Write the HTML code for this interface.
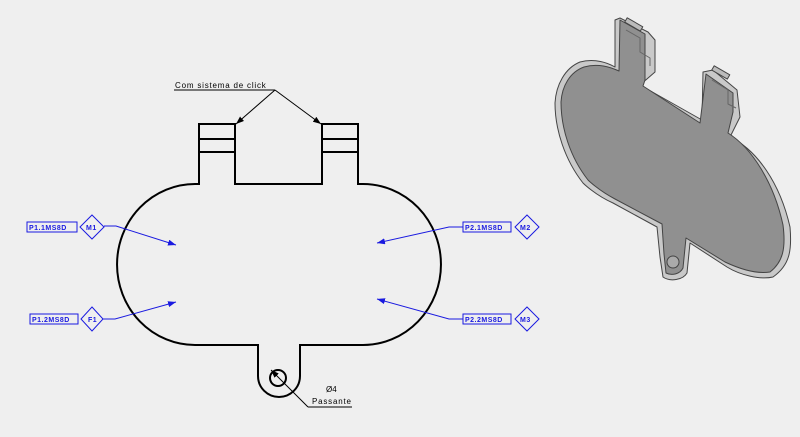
<!DOCTYPE html>
<html><head><style>
html,body{margin:0;padding:0;background:#efefef;}
svg{display:block;}
text{font-family:"Liberation Sans",sans-serif;}
</style></head><body>
<svg width="800" height="437" viewBox="0 0 800 437" xmlns="http://www.w3.org/2000/svg">
<rect width="800" height="437" fill="#efefef"/>
<defs>
<marker id="ab" markerWidth="8" markerHeight="6" refX="8" refY="3" orient="auto" markerUnits="userSpaceOnUse"><path d="M0,0 L8,3 L0,6 z" fill="#1a1ae0"/></marker>
<marker id="ak" markerWidth="8" markerHeight="6" refX="8" refY="3" orient="auto" markerUnits="userSpaceOnUse"><path d="M0,0 L8,3 L0,6 z" fill="#000"/></marker>
</defs>
<g fill="none" stroke="#000" stroke-width="2">
<path d="M199,184 L195,184 A78,80.5 0 0 0 195,345 L258,345 L258,376 A21,21 0 0 0 300,376 L300,345 L363,345 A78,80.5 0 0 0 363,184 L358,184 L358,124 L322,124 L322,184 L235,184 L235,124 L199,124 Z"/>
<line x1="199" y1="139" x2="235" y2="139"/><line x1="199" y1="152" x2="235" y2="152"/>
<line x1="322" y1="139" x2="358" y2="139"/><line x1="322" y1="152" x2="358" y2="152"/>
<circle cx="278" cy="378" r="8"/>
</g>
<text x="175" y="88" font-size="8" letter-spacing="0.8">Com sistema de click</text>
<g stroke="#000" stroke-width="1" fill="none">
<line x1="174" y1="90" x2="275" y2="90"/>
<line x1="275" y1="90" x2="236" y2="124" marker-end="url(#ak)"/>
<line x1="275" y1="90" x2="321" y2="124" marker-end="url(#ak)"/>
<line x1="308" y1="407" x2="352" y2="407"/>
<line x1="308" y1="407" x2="271" y2="370" marker-end="url(#ak)"/>
</g>
<text x="326" y="392" font-size="8">Ø4</text>
<text x="312" y="404" font-size="8" letter-spacing="0.8">Passante</text>
<g stroke="#1a1ae0" stroke-width="1" fill="none">
<rect x="27" y="222" width="50" height="10"/>
<path d="M92,215 L104,227 L92,239 L80,227 Z"/>
<polyline points="104,226 116,226 176,245" marker-end="url(#ab)"/>
<rect x="30" y="314" width="48" height="10"/>
<path d="M92,307 L103,319 L92,331 L81,319 Z"/>
<polyline points="103,319 115,319 176,302" marker-end="url(#ab)"/>
<rect x="463" y="222" width="48" height="10"/>
<path d="M527,215 L539,227 L527,239 L515,227 Z"/>
<polyline points="463,227 449,227 377,243" marker-end="url(#ab)"/>
<rect x="463" y="314" width="48" height="10"/>
<path d="M527,307 L539,319 L527,331 L515,319 Z"/>
<polyline points="463,319 449,319 377,299" marker-end="url(#ab)"/>
</g>
<g fill="#1a1ae0" font-size="7" font-weight="bold" letter-spacing="0.5">
<text x="29" y="230">P1.1MS8D</text><text x="86" y="230">M1</text>
<text x="32" y="322">P1.2MS8D</text><text x="88" y="322">F1</text>
<text x="465" y="230">P2.1MS8D</text><text x="520" y="230">M2</text>
<text x="465" y="322">P2.2MS8D</text><text x="520" y="322">M3</text>
</g>
<!-- 3D view -->
<g stroke="#444" stroke-width="1" stroke-linejoin="round">
<path d="M615,20 L620,18 L648,32 L655,40 L655,72 L640,85 L702,120 L703,72 L713,70 L737,90 L740,117 L730,137 C757,150 780,183 790,227 C792,250 790,265 773,277 C760,280 740,275 727,267 L690,243 L687,273 C683,280 670,282 663,277 L660,257 L657,227 L613,203 C595,195 583,183 583,183 C565,160 555,130 555,103 C556,85 565,68 580,62 C595,58 608,63 615,67 Z" fill="#c9c9c9"/>
<path d="M620,20 L645,34 L645,80 L643,86 L700,123 L706,74 L733,93 L733,112 L728,133 C752,148 774,183 783,225 C786,248 783,262 770,272 C757,274 742,270 725,262 L686,238 L683,268 C680,274 672,276 666,273 L664,254 L662,224 L615,199 C598,190 588,180 588,180 C570,157 561,128 561,102 C562,86 570,72 584,67 C598,63 610,67 619,71 Z" fill="#909090"/>
<path d="M626,30 L640,38 L640,52 L650,58 L650,66 M712,80 L728,90 L728,104 L736,108" fill="none" stroke="#666"/>
<rect x="625" y="22" width="18" height="5" fill="#bbb" transform="rotate(30 634 24)"/>
<rect x="712" y="70" width="18" height="5" fill="#bbb" transform="rotate(30 721 72)"/>
<circle cx="673" cy="262" r="6" fill="#aaa"/>
</g>
</svg>
</body></html>
